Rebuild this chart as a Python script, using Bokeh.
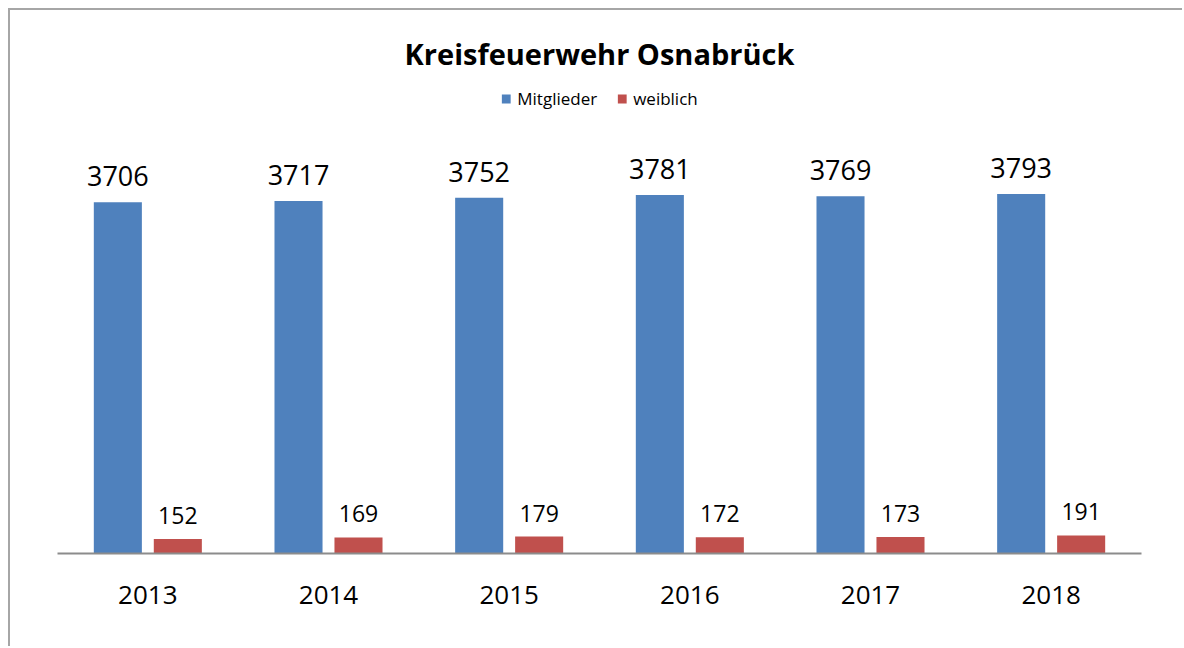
from bokeh.plotting import figure
from bokeh.models import ColumnDataSource, FactorRange, Range1d, LabelSet, Legend, LegendItem
from bokeh.transform import dodge
from bokeh.core.properties import value
from bokeh.embed import file_html
from bokeh.resources import INLINE

years = ["2013", "2014", "2015", "2016", "2017", "2018"]
mitglieder = [3706, 3717, 3752, 3781, 3769, 3793]
weiblich = [152, 169, 179, 172, 173, 191]

BLUE = "#4F81BD"
RED = "#C0504D"
FONT = "Open Sans"

src = ColumnDataSource(dict(
    year=years,
    mitglieder=mitglieder,
    weiblich=weiblich,
    m_txt=[str(v) for v in mitglieder],
    w_txt=[str(v) for v in weiblich],
))

p = figure(
    width=1174, height=638,
    x_range=FactorRange(*years),
    y_range=Range1d(0, 5021),
    output_backend="svg", toolbar_location=None,
    min_border_left=47, min_border_right=43,
    min_border_bottom=95, min_border_top=67,
    title="Kreisfeuerwehr Osnabrück",
)
p.styles = {"margin-left": "8px", "margin-top": "8px",
            "border-left": "2px solid #a6a6a6", "border-top": "2px solid #a6a6a6"}

p.title.align = "center"
p.title.offset = -6
p.title.text_font = FONT
p.title.text_font_size = "29px"
p.title.text_font_style = "bold"
p.title.text_color = "#000000"

r1 = p.vbar(x=dodge("year", -0.166, range=p.x_range), top="mitglieder", width=0.266,
            source=src, fill_color=BLUE, line_color=None)
r2 = p.vbar(x=dodge("year", 0.166, range=p.x_range), top="weiblich", width=0.266,
            source=src, fill_color=RED, line_color=None)

lab1 = LabelSet(x=dodge("year", -0.166, range=p.x_range), y="mitglieder", text="m_txt",
                source=src, text_align="center", text_baseline="alphabetic", y_offset=16,
                text_font=value(FONT), text_font_size=value("27px"), text_color="#000000")
lab2 = LabelSet(x=dodge("year", 0.166, range=p.x_range), y="weiblich", text="w_txt",
                source=src, text_align="center", text_baseline="alphabetic", y_offset=15,
                text_font=value(FONT), text_font_size=value("23px"), text_color="#000000")
p.add_layout(lab1)
p.add_layout(lab2)

legend = Legend(items=[LegendItem(label="Mitglieder", renderers=[r1]),
                       LegendItem(label="weiblich", renderers=[r2])],
                orientation="horizontal", location="top_center")
legend.label_text_font = FONT
legend.label_text_font_size = "17px"
legend.label_text_color = "#000000"
legend.glyph_width = 11
legend.glyph_height = 11
legend.label_standoff = 6
legend.spacing = 19
legend.border_line_color = None
legend.background_fill_alpha = 0
legend.padding = 0
legend.margin = 10
p.add_layout(legend)

p.yaxis.visible = False
p.xgrid.grid_line_color = None
p.ygrid.grid_line_color = None
p.outline_line_color = None

ax = p.xaxis[0]
ax.axis_line_color = "#8c8c8c"
ax.axis_line_width = 2
ax.major_tick_line_color = None
ax.minor_tick_line_color = None
ax.major_label_text_font = FONT
ax.major_label_text_font_size = "26px"
ax.major_label_text_color = "#000000"
ax.major_label_standoff = 26

open("out.html", "w").write(file_html(p, INLINE))
